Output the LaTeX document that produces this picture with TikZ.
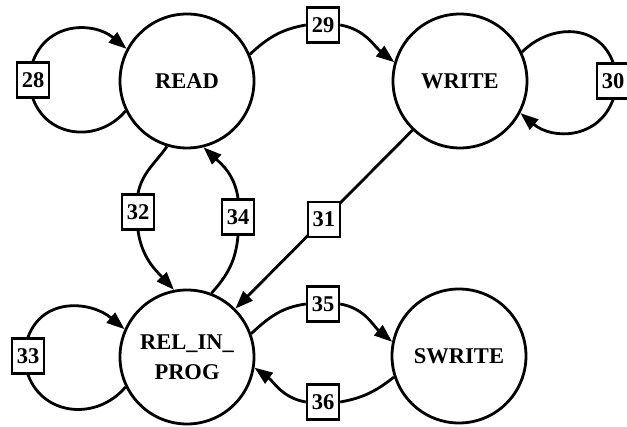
\documentclass[tikz,border=0pt]{standalone}
\usepackage{fontspec}
\setmainfont{Liberation Serif}
\usetikzlibrary{arrows.meta}

\begin{document}
\begin{tikzpicture}[x=1pt, y=1pt,
    estado/.style={circle, draw, line width=2.8pt, minimum size=134pt, inner sep=0pt,
        align=center, font=\fontsize{22.5}{30}\selectfont\bfseries},
    etiq/.style={draw, line width=2.4pt, fill=white, minimum width=32pt, minimum height=35pt,
        inner sep=0pt, font=\fontsize{22.5}{24}\selectfont\bfseries},
    arista/.style={line width=2.8pt},
    flecha/.style={arista, -{Triangle[length=18pt, width=13pt]}}]
    \useasboundingbox (0,0) rectangle (627,427);

    % Estados del protocolo.
    \node[estado] (read)   at (187,346) {READ};
    \node[estado] (write)  at (460,346) {WRITE};
    \node[estado] (rel)    at (187,70)  {REL\_IN\_\\PROG};
    \node[estado] (swrite) at (459,71)  {SWRITE};

    % Etiquetas de las transiciones.
    \node[etiq] (l28) at (33,347)  {28};
    \node[etiq] (l29) at (323,402) {29};
    \node[etiq] (l30) at (613,346) {30};
    \node[etiq] (l32) at (138,215) {32};
    \node[etiq] (l34) at (238,210) {34};
    \node[etiq] (l33) at (28,71)   {33};
    \node[etiq] (l35) at (323,123) {35};
    \node[etiq] (l36) at (323,25)  {36};

    % Lazos sobre un mismo estado.
    \draw[arista] (read.206) to[out=230, in=-70, looseness=1.15] (l28.south);
    \draw[flecha] (l28.north) to[out=70, in=140, looseness=1.15] (read.152);
    \draw[arista] (write.25) to[out=45, in=110, looseness=1.15] (l30.north);
    \draw[flecha] (l30.south) to[out=250, in=-40, looseness=1.15] (write.-28);
    \draw[arista] (rel.206) to[out=230, in=-70, looseness=1.15] (l33.south);
    \draw[flecha] (l33.north) to[out=70, in=140, looseness=1.15] (rel.156);

    % Transiciones entre estados.
    \draw[arista] (read.23) to[out=43, in=190] (l29.west);
    \draw[flecha] (l29.east) to[out=-10, in=142] (write.164);
    \draw[arista] (read.253) to[out=235, in=78] (l32.north);
    \draw[flecha] (l32.south) to[out=-82, in=133] (rel.101);
    \draw[arista] (rel.69) to[out=48, in=-95] (l34.south);
    \draw[flecha] (l34.north) to[out=98, in=-43] (read.-76);
    \draw[arista] (rel.20) to[out=43, in=188] (l35.west);
    \draw[flecha] (l35.east) to[out=-10, in=140] (swrite.168);
    \draw[arista] (swrite.198) to[out=218, in=10] (l36.east);
    \draw[flecha] (l36.west) to[out=170, in=-36] (rel.-9);
    \draw[flecha] (write.226) -- node[etiq] {31} (rel.45);
\end{tikzpicture}
\end{document}
